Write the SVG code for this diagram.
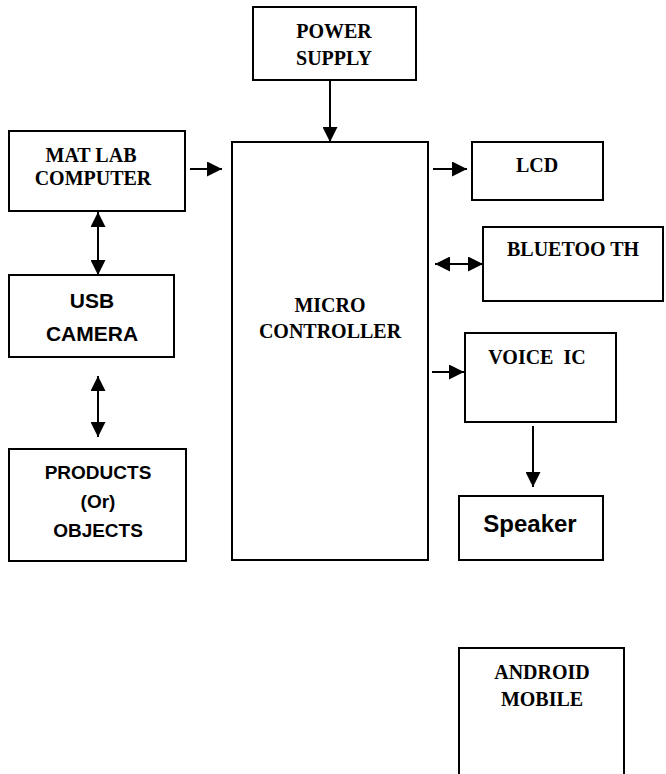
<svg xmlns="http://www.w3.org/2000/svg" width="666" height="774" viewBox="0 0 666 774">
<style>
.box{fill:#fff;stroke:#000;stroke-width:2}
.tr{font-family:"Liberation Serif","Times New Roman",serif;font-weight:bold;font-size:20px;fill:#000;text-anchor:middle}
.ar{font-family:"Liberation Sans",Arial,sans-serif;font-weight:bold;font-size:19px;fill:#000;text-anchor:middle}
.cn{fill:none;stroke:#000;stroke-width:2}
</style>
<defs>
<marker id="ah" markerUnits="userSpaceOnUse" markerWidth="15" markerHeight="15" refX="15" refY="7.5" orient="auto-start-reverse" viewBox="0 0 15 15">
<path d="M0,0 L15,7.5 L0,15 z" fill="#000"/>
</marker>
</defs>
<rect width="666" height="774" fill="#fff"/>
<g id="power"><rect class="box" x="253" y="7" width="163" height="73"/>
<text class="tr" x="334" y="38">POWER</text><text class="tr" x="334" y="65">SUPPLY</text></g>
<g id="matlab"><rect class="box" x="9" y="131" width="176" height="80"/>
<text class="tr" x="91" y="162">MAT LAB</text><text class="tr" x="93" y="185">COMPUTER</text></g>
<g id="micro"><rect class="box" x="232" y="142" width="196" height="418"/>
<text class="tr" x="330" y="312">MICRO</text><text class="tr" x="330" y="338">CONTROLLER</text></g>
<g id="lcd"><rect class="box" x="472" y="142" width="131" height="58"/>
<text class="tr" x="537" y="172">LCD</text></g>
<g id="bluetooth"><rect class="box" x="483" y="227" width="180" height="74"/>
<text class="tr" x="573" y="256">BLUETOO TH</text></g>
<g id="usb"><rect class="box" x="9" y="275" width="165" height="82"/>
<text class="ar" style="font-size:21px" x="92" y="308">USB</text><text class="ar" style="font-size:21px" x="92" y="341">CAMERA</text></g>
<g id="voice"><rect class="box" x="465" y="333" width="151" height="89"/>
<text class="tr" x="537" y="364" xml:space="preserve">VOICE  IC</text></g>
<g id="products"><rect class="box" x="9" y="449" width="177" height="112"/>
<text class="ar" x="98" y="479">PRODUCTS</text><text class="ar" x="98" y="508">(Or)</text><text class="ar" x="98" y="537">OBJECTS</text></g>
<g id="speaker"><rect class="box" x="459" y="496" width="144" height="64"/>
<text class="ar" style="font-size:24px" x="530" y="532">Speaker</text></g>
<g id="android"><rect class="box" x="459" y="648" width="165" height="140"/>
<text class="tr" x="542" y="679">ANDROID</text><text class="tr" x="542" y="706">MOBILE</text></g>
<g id="connectors">
<line class="cn" x1="330" y1="80" x2="330" y2="142" marker-end="url(#ah)"/>
<line class="cn" x1="190" y1="169" x2="222" y2="169" marker-end="url(#ah)"/>
<line class="cn" x1="433" y1="169" x2="467" y2="169" marker-end="url(#ah)"/>
<line class="cn" x1="435" y1="264" x2="483" y2="264" marker-start="url(#ah)" marker-end="url(#ah)"/>
<line class="cn" x1="98" y1="212" x2="98" y2="275" marker-start="url(#ah)" marker-end="url(#ah)"/>
<line class="cn" x1="98" y1="376" x2="98" y2="437" marker-start="url(#ah)" marker-end="url(#ah)"/>
<line class="cn" x1="432" y1="372" x2="464" y2="372" marker-end="url(#ah)"/>
<line class="cn" x1="533" y1="426" x2="533" y2="487" marker-end="url(#ah)"/>
</g>
</svg>
